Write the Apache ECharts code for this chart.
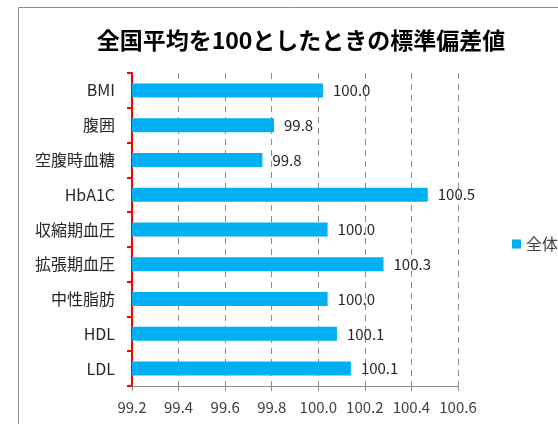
<!DOCTYPE html>
<html><head><meta charset="utf-8">
<script src="https://cdn.jsdelivr.net/npm/echarts@6/dist/echarts.min.js"></script>
<style>html,body{margin:0;padding:0;background:#fff}#c{width:558px;height:424px}</style>
</head><body><div id="c"></div>
<script>
const categories = ['BMI','腹囲','空腹時血糖','HbA1C','収縮期血圧','拡張期血圧','中性脂肪','HDL','LDL'];
const values = [100.02, 99.81, 99.76, 100.47, 100.04, 100.28, 100.04, 100.08, 100.14];
const seriesName = '全体';
const titleText = '全国平均を100としたときの標準偏差値';
const xMin = 99.2, xMax = 100.6, xStep = 0.2;

const FONT = '"Noto Sans CJK JP", "Noto Sans", sans-serif';
const chart = echarts.init(document.getElementById('c'));
chart.setOption({
  animation: false,
  textStyle: { fontFamily: FONT },
  graphic: [{
    type: 'rect', shape: { x: 18.5, y: 7.5, width: 700, height: 600 },
    style: { fill: 'none', stroke: '#8c8c8c', lineWidth: 1 }, silent: true
  }],
  title: {
    text: titleText, left: 296, top: 24, textAlign: 'center',
    textStyle: { fontFamily: FONT, fontSize: 23, fontWeight: 'bold', color: '#000' }
  },
  legend: {
    data: [seriesName], left: 507, top: 231, icon: 'rect', itemWidth: 9, itemHeight: 9, itemGap: 5,
    textStyle: { fontFamily: FONT, fontSize: 16, color: '#404040' }
  },
  grid: { left: 132, right: 100, top: 73, bottom: 38, containLabel: false },
  xAxis: {
    type: 'value', min: xMin, max: xMax, interval: xStep,
    axisLine: { show: true, lineStyle: { color: '#8c8c8c', width: 1 } },
    axisTick: { show: true, length: 5, lineStyle: { color: '#8c8c8c' } },
    axisLabel: { fontFamily: FONT, fontSize: 15, color: '#404040', margin: 14, formatter: v => v.toFixed(1) },
    splitLine: { show: true, lineStyle: { color: '#8c8c8c', type: [6, 5], width: 1 } }
  },
  yAxis: {
    type: 'category', data: categories, inverse: true,
    axisLine: { show: true, lineStyle: { color: '#ff0000', width: 2 } },
    axisTick: { show: true, length: 5, lineStyle: { color: '#ff0000', width: 2 } },
    axisLabel: { fontFamily: FONT, fontSize: 16, color: '#262626', margin: 17 },
    splitLine: { show: false }
  },
  series: [{
    name: seriesName, type: 'bar', data: values, barWidth: 14,
    itemStyle: { color: '#00B0F0' },
    label: { show: true, position: 'right', distance: 10, fontFamily: FONT, fontSize: 15, color: '#262626',
      formatter: p => p.value.toFixed(1) }
  }]
});
</script></body></html>
